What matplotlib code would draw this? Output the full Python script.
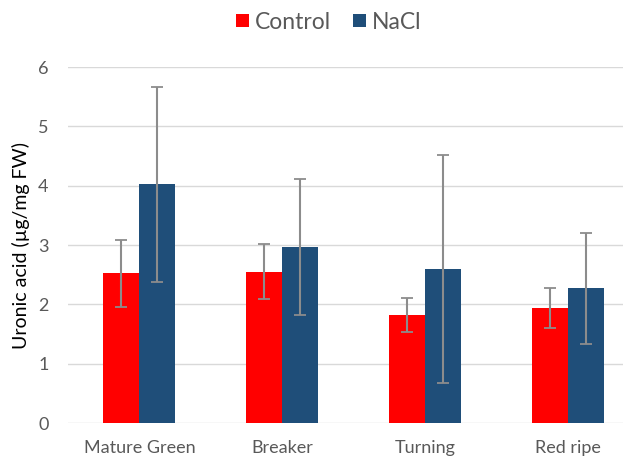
import numpy as np
import matplotlib.pyplot as plt

plt.rcParams['font.family'] = ['Lato', 'DejaVu Sans']

# ==================== data ====================
stages = ['Mature Green', 'Breaker', 'Turning', 'Red ripe']
control = [2.52, 2.55, 1.82, 1.94]
control_err = [0.56, 0.46, 0.29, 0.34]
nacl = [4.02, 2.97, 2.59, 2.27]
nacl_err = [1.65, 1.15, 1.92, 0.94]

# ==================== plot ====================
fig = plt.figure(figsize=(6.26, 4.59), dpi=100)
ax = fig.add_axes([0.1086, 0.0784, 0.8866, 0.7756])

x = np.arange(len(stages))
w = 0.252
err_kw = dict(ecolor='#8c8c8c', elinewidth=1.5, capsize=4, capthick=1.3)

ax.bar(x - w / 2, control, w, yerr=control_err, color='#FF0000',
       label='Control', error_kw=err_kw, zorder=3)
ax.bar(x + w / 2, nacl, w, yerr=nacl_err, color='#1F4E79',
       label='NaCl', error_kw=err_kw, zorder=3)

ax.set_xlim(-0.5, 3.385)
ax.set_ylim(0, 6)
ax.set_yticks(range(0, 7))
ax.set_xticks(x)
ax.set_xticklabels(stages)
ax.tick_params(axis='both', length=0, labelsize=13, labelcolor='#595959')
ax.tick_params(axis='x', pad=12)
ax.tick_params(axis='y', pad=14)

ax.grid(axis='y', color='#d9d9d9', linewidth=1, zorder=0)
for s in ['top', 'right', 'left', 'bottom']:
    ax.spines[s].set_visible(False)

ax.set_ylabel('Uronic acid (µg/mg FW)', fontsize=14, color='black', labelpad=6)

fig.legend(loc='center', bbox_to_anchor=(0.525, 0.952), ncol=2, frameon=False,
           fontsize=16.5, handlelength=0.55, handleheight=0.55, handletextpad=0.25,
           columnspacing=1.0, labelcolor='#595959')

fig.savefig('out.png', dpi=100)
